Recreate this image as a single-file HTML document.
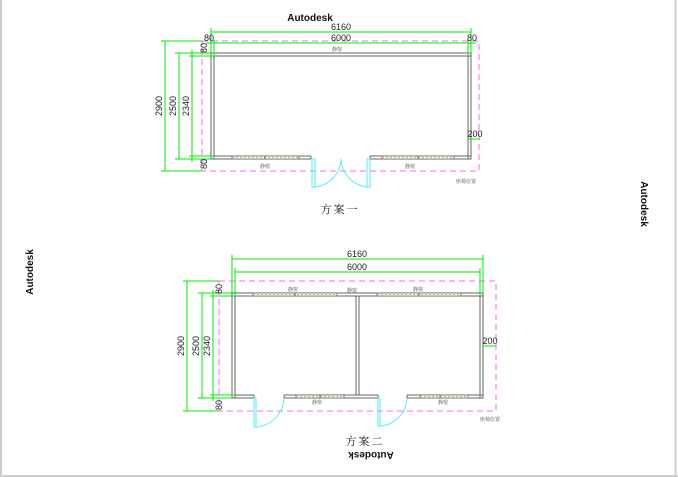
<!DOCTYPE html>
<html><head><meta charset="utf-8"><style>
html,body{margin:0;padding:0;background:#fff;width:678px;height:477px;overflow:hidden}
svg{display:block}
.d{stroke:#00ee00;stroke-width:1;fill:none}
.t{font-family:"Liberation Sans",sans-serif;font-size:9px;fill:#222}
.c{font-family:"Liberation Serif","Noto Serif CJK SC",serif;font-size:5px;fill:#444}
.w{stroke:#666;stroke-width:1;fill:none}
.m{stroke:#ff66ff;stroke-width:1;fill:none;stroke-dasharray:6,4}
.dr{stroke:#55eeff;stroke-width:1;fill:none}
.h{fill:#fff;stroke:#666;stroke-width:0.8}
.hl{stroke:#e0a020;stroke-width:0.8;stroke-dasharray:2,2}
</style></head><body>
<svg width="678" height="477" viewBox="0 0 678 477" xmlns="http://www.w3.org/2000/svg">
<rect x="0" y="0" width="678" height="477" fill="#fff"/>
<line x1="1" y1="0" x2="1" y2="477" stroke="#ccc" stroke-width="2"/>
<line x1="675.5" y1="0" x2="675.5" y2="477" stroke="#ccc" stroke-width="2"/>
<line x1="0" y1="476" x2="678" y2="476" stroke="#ccc" stroke-width="2"/>

<text x="310" y="21" text-anchor="middle" font-family="Liberation Sans,sans-serif" font-weight="bold" font-size="10" fill="#111">Autodesk</text>
<text transform="translate(641,204) rotate(90)" text-anchor="middle" font-family="Liberation Sans,sans-serif" font-weight="bold" font-size="10" fill="#111">Autodesk</text>
<text transform="translate(33,272) rotate(-90)" text-anchor="middle" font-family="Liberation Sans,sans-serif" font-weight="bold" font-size="10" fill="#111">Autodesk</text>
<text transform="translate(371,452) rotate(180)" text-anchor="middle" font-family="Liberation Sans,sans-serif" font-weight="bold" font-size="10" fill="#111">Autodesk</text>

<!-- PLAN 1 -->
<rect class="m" x="202" y="41" width="277" height="130"/>
<rect class="w" x="211" y="53" width="260" height="106"/>
<rect class="w" x="214" y="56" width="254" height="100"/>
<rect class="w" x="211" y="53" width="3" height="3"/><rect class="w" x="468" y="53" width="3" height="3"/>
<rect class="w" x="211" y="156" width="3" height="3"/><rect class="w" x="468" y="156" width="3" height="3"/>
<rect x="311" y="155" width="59" height="5" fill="#fff"/>
<line class="w" x1="311" y1="156" x2="311" y2="159"/><line class="w" x1="370" y1="156" x2="370" y2="159"/>
<rect class="h" x="232" y="156" width="67" height="3"/><line class="hl" x1="232" y1="157.5" x2="299" y2="157.5"/><line class="w" x1="265" y1="156" x2="265" y2="159"/>
<rect class="h" x="382" y="156" width="72" height="3"/><line class="hl" x1="382" y1="157.5" x2="454" y2="157.5"/><line class="w" x1="418" y1="156" x2="418" y2="159"/>
<rect class="dr" x="312" y="159" width="3" height="28"/><path class="dr" d="M341 159 A29 29 0 0 1 312 187"/>
<rect class="dr" x="367" y="159" width="3" height="28"/><path class="dr" d="M341 159 A29 29 0 0 0 370 187"/>
<text class="c" x="337" y="51" text-anchor="middle">静窗</text>
<text class="c" x="265" y="168" text-anchor="middle">静窗</text>
<text class="c" x="410" y="168" text-anchor="middle">静窗</text>
<text class="c" x="466" y="183" text-anchor="middle">座椅位置</text>
<!-- dims -->
<line class="d" x1="211" y1="32" x2="471" y2="32"/><line class="d" x1="211" y1="28" x2="211" y2="53"/><line class="d" x1="471" y1="28" x2="471" y2="53"/>
<line class="d" x1="206" y1="43" x2="476" y2="43"/><line class="d" x1="214" y1="40" x2="214" y2="56"/><line class="d" x1="468" y1="40" x2="468" y2="56"/>
<text class="t" x="341" y="30" text-anchor="middle">6160</text>
<text class="t" x="341" y="41" text-anchor="middle">6000</text>
<text class="t" x="209" y="41" text-anchor="middle">80</text>
<text class="t" x="472" y="41" text-anchor="middle">80</text>
<line class="d" x1="165" y1="41" x2="165" y2="171"/><line class="d" x1="161" y1="41" x2="202" y2="41"/><line class="d" x1="161" y1="171" x2="202" y2="171"/>
<line class="d" x1="179" y1="53" x2="179" y2="159"/><line class="d" x1="175" y1="53" x2="211" y2="53"/><line class="d" x1="175" y1="159" x2="211" y2="159"/>
<line class="d" x1="192" y1="50" x2="192" y2="162"/><line class="d" x1="189" y1="56" x2="214" y2="56"/><line class="d" x1="189" y1="156" x2="214" y2="156"/>
<text class="t" transform="translate(162,106) rotate(-90)" text-anchor="middle">2900</text>
<text class="t" transform="translate(176,106) rotate(-90)" text-anchor="middle">2500</text>
<text class="t" transform="translate(189,106) rotate(-90)" text-anchor="middle">2340</text>
<text class="t" transform="translate(207,48) rotate(-90)" text-anchor="middle">80</text>
<text class="t" transform="translate(207,164) rotate(-90)" text-anchor="middle">80</text>
<line class="d" x1="468" y1="139" x2="480" y2="139"/>
<text class="t" x="475" y="137" text-anchor="middle">200</text>
<text x="340" y="213" text-anchor="middle" font-family="Liberation Serif,'Noto Serif CJK SC',serif" font-size="11" fill="#222" letter-spacing="2">方案一</text>

<!-- PLAN 2 -->
<rect class="m" x="219" y="281" width="277" height="130"/>
<rect class="w" x="232" y="293" width="251" height="105"/>
<rect class="w" x="235" y="296" width="245" height="99"/>
<line class="w" x1="356" y1="296" x2="356" y2="395"/><line class="w" x1="359" y1="296" x2="359" y2="395"/>
<rect class="w" x="232" y="293" width="3" height="3"/><rect class="w" x="480" y="293" width="3" height="3"/>
<rect class="w" x="232" y="395" width="3" height="3"/><rect class="w" x="480" y="395" width="3" height="3"/>
<rect class="h" x="253" y="293" width="84" height="3"/><line class="hl" x1="253" y1="294.5" x2="337" y2="294.5"/><line class="w" x1="295" y1="293" x2="295" y2="296"/>
<rect class="h" x="377" y="293" width="84" height="3"/><line class="hl" x1="377" y1="294.5" x2="461" y2="294.5"/><line class="w" x1="419" y1="293" x2="419" y2="296"/>
<rect class="h" x="296" y="395" width="48" height="3"/><line class="hl" x1="296" y1="396.5" x2="344" y2="396.5"/><line class="w" x1="320" y1="395" x2="320" y2="398"/>
<rect class="h" x="420" y="395" width="48" height="3"/><line class="hl" x1="420" y1="396.5" x2="468" y2="396.5"/><line class="w" x1="440" y1="395" x2="440" y2="398"/>
<rect x="254" y="394" width="30" height="5" fill="#fff"/><line class="w" x1="254" y1="395" x2="254" y2="398"/><line class="w" x1="284" y1="395" x2="284" y2="398"/>
<rect x="378" y="394" width="29" height="5" fill="#fff"/><line class="w" x1="378" y1="395" x2="378" y2="398"/><line class="w" x1="407" y1="395" x2="407" y2="398"/>
<rect class="dr" x="254" y="398" width="2" height="29"/><path class="dr" d="M254 427 A30 30 0 0 0 284 398"/>
<rect class="dr" x="378" y="398" width="2" height="28"/><path class="dr" d="M378 426 A29 29 0 0 0 407 398"/>
<text class="c" x="293" y="291" text-anchor="middle">静窗</text>
<text class="c" x="352" y="292" text-anchor="middle">静窗</text>
<text class="c" x="418" y="291" text-anchor="middle">静窗</text>
<text class="c" x="317" y="404" text-anchor="middle">静窗</text>
<text class="c" x="443" y="404" text-anchor="middle">静窗</text>
<text class="c" x="490" y="421" text-anchor="middle">座椅位置</text>
<line class="d" x1="232" y1="259" x2="483" y2="259"/><line class="d" x1="232" y1="255" x2="232" y2="293"/><line class="d" x1="483" y1="255" x2="483" y2="293"/>
<line class="d" x1="235" y1="272" x2="480" y2="272"/><line class="d" x1="235" y1="268" x2="235" y2="296"/><line class="d" x1="480" y1="268" x2="480" y2="296"/>
<text class="t" x="357" y="257" text-anchor="middle">6160</text>
<text class="t" x="357" y="270" text-anchor="middle">6000</text>
<line class="d" x1="187" y1="281" x2="187" y2="411"/><line class="d" x1="183" y1="281" x2="219" y2="281"/><line class="d" x1="183" y1="411" x2="219" y2="411"/>
<line class="d" x1="202" y1="293" x2="202" y2="398"/><line class="d" x1="198" y1="293" x2="232" y2="293"/><line class="d" x1="198" y1="398" x2="232" y2="398"/>
<line class="d" x1="213" y1="290" x2="213" y2="401"/><line class="d" x1="210" y1="296" x2="235" y2="296"/><line class="d" x1="210" y1="395" x2="235" y2="395"/>
<text class="t" transform="translate(184,346) rotate(-90)" text-anchor="middle">2900</text>
<text class="t" transform="translate(199,346) rotate(-90)" text-anchor="middle">2500</text>
<text class="t" transform="translate(210,346) rotate(-90)" text-anchor="middle">2340</text>
<text class="t" transform="translate(222,289) rotate(-90)" text-anchor="middle">80</text>
<text class="t" transform="translate(222,405) rotate(-90)" text-anchor="middle">80</text>
<line class="d" x1="483" y1="346" x2="496" y2="346"/>
<text class="t" x="490" y="344" text-anchor="middle">200</text>
<text x="365" y="445" text-anchor="middle" font-family="Liberation Serif,'Noto Serif CJK SC',serif" font-size="11" fill="#222" letter-spacing="2">方案二</text>
</svg>
</body></html>
